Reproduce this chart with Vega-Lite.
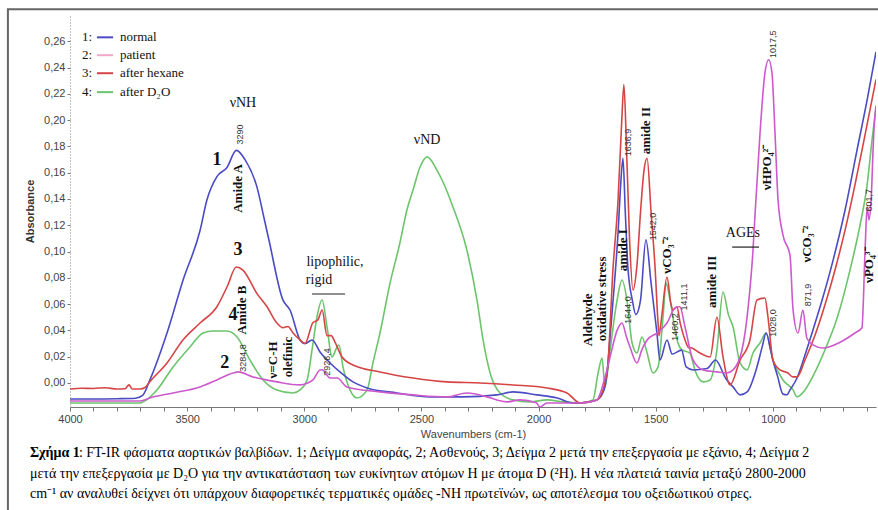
{
"$schema": "https://vega.github.io/schema/vega-lite/v6.json",
"width": 806, "height": 392,
"autosize": {"type": "none"},
"padding": {"left": 70, "top": 15, "right": 2, "bottom": 103},
"background": "white",
"config": {"view": {"stroke": null}, "font": "Liberation Sans"},
"datasets": {
"normal": [{"w":4000,"a":-0.0122},{"w":3900,"a":-0.0122},{"w":3800,"a":-0.012},{"w":3720,"a":-0.0116},{"w":3690,"a":-0.0095},{"w":3659,"a":0.0023},{"w":3586,"a":0.038},{"w":3518,"a":0.078},{"w":3445,"a":0.116},{"w":3416,"a":0.139},{"w":3373,"a":0.157},{"w":3330,"a":0.164},{"w":3290,"a":0.177},{"w":3253,"a":0.17},{"w":3202,"a":0.149},{"w":3170,"a":0.124},{"w":3150,"a":0.108},{"w":3091,"a":0.063},{"w":3061,"a":0.0555},{"w":3018,"a":0.0327},{"w":2997,"a":0.03},{"w":2967,"a":0.0327},{"w":2933,"a":0.0236},{"w":2890,"a":0.0152},{"w":2848,"a":0.0084},{"w":2792,"a":0.0008},{"w":2732,"a":-0.0038},{"w":2604,"a":-0.0076},{"w":2463,"a":-0.0106},{"w":2323,"a":-0.0106},{"w":2178,"a":-0.0091},{"w":2109,"a":-0.0068},{"w":2007,"a":-0.0091},{"w":1921,"a":-0.0114},{"w":1853,"a":-0.0152},{"w":1823,"a":-0.0152},{"w":1751,"a":-0.0129},{"w":1720,"a":-0.005},{"w":1708,"a":0.0076},{"w":1695,"a":0.035},{"w":1682,"a":0.0631},{"w":1661,"a":0.114},{"w":1650,"a":0.15},{"w":1640,"a":0.171},{"w":1630,"a":0.13},{"w":1619,"a":0.088},{"w":1600,"a":0.063},{"w":1585,"a":0.052},{"w":1565,"a":0.063},{"w":1542,"a":0.109},{"w":1520,"a":0.076},{"w":1495,"a":0.038},{"w":1482,"a":0.0175},{"w":1452,"a":0.0327},{"w":1430,"a":0.022},{"w":1390,"a":0.025},{"w":1370,"a":0.0122},{"w":1340,"a":0.0099},{"w":1281,"a":0.011},{"w":1245,"a":0.0175},{"w":1200,"a":0.003},{"w":1170,"a":-0.003},{"w":1140,"a":-0.0091},{"w":1110,"a":-0.0068},{"w":1068,"a":0.0122},{"w":1045,"a":0.028},{"w":1029,"a":0.038},{"w":1010,"a":0.025},{"w":1000,"a":0.0175},{"w":980,"a":0.005},{"w":957,"a":-0.0085},{"w":940,"a":-0.009},{"w":927,"a":-0.0053},{"w":897,"a":0.0038},{"w":863,"a":0.0213},{"w":829,"a":0.0403},{"w":790,"a":0.0631},{"w":743,"a":0.0935},{"w":692,"a":0.1316},{"w":641,"a":0.1772},{"w":598,"a":0.2152},{"w":560,"a":0.252}],
"hexane": [{"w":4000,"a":-0.0046},{"w":3950,"a":-0.004},{"w":3900,"a":-0.0042},{"w":3850,"a":-0.0036},{"w":3800,"a":-0.0046},{"w":3765,"a":-0.0044},{"w":3748,"a":-0.0015},{"w":3735,"a":-0.0046},{"w":3700,"a":-0.0046},{"w":3680,"a":-0.0035},{"w":3659,"a":0.001},{"w":3586,"a":0.0152},{"w":3518,"a":0.0327},{"w":3445,"a":0.0456},{"w":3373,"a":0.058},{"w":3330,"a":0.073},{"w":3290,"a":0.0882},{"w":3262,"a":0.0859},{"w":3202,"a":0.068},{"w":3159,"a":0.058},{"w":3117,"a":0.0456},{"w":3091,"a":0.042},{"w":3070,"a":0.043},{"w":3048,"a":0.038},{"w":3018,"a":0.0327},{"w":2997,"a":0.03},{"w":2963,"a":0.046},{"w":2942,"a":0.048},{"w":2924,"a":0.0555},{"w":2903,"a":0.036},{"w":2885,"a":0.036},{"w":2869,"a":0.031},{"w":2839,"a":0.0198},{"w":2792,"a":0.0137},{"w":2677,"a":0.0084},{"w":2536,"a":0.0038},{"w":2391,"a":0.0008},{"w":2250,"a":0},{"w":2109,"a":-0.0015},{"w":1964,"a":-0.0038},{"w":1879,"a":-0.0076},{"w":1823,"a":-0.0152},{"w":1751,"a":-0.0129},{"w":1708,"a":0.0076},{"w":1682,"a":0.0882},{"w":1661,"a":0.139},{"w":1645,"a":0.2},{"w":1636,"a":0.227},{"w":1625,"a":0.18},{"w":1612,"a":0.11},{"w":1597,"a":0.0707},{"w":1580,"a":0.09},{"w":1565,"a":0.13},{"w":1550,"a":0.162},{"w":1537,"a":0.171},{"w":1520,"a":0.13},{"w":1503,"a":0.088},{"w":1490,"a":0.045},{"w":1486,"a":0.036},{"w":1475,"a":0.05},{"w":1452,"a":0.0806},{"w":1435,"a":0.06},{"w":1426,"a":0.0555},{"w":1410,"a":0.058},{"w":1395,"a":0.045},{"w":1375,"a":0.0327},{"w":1360,"a":0.027},{"w":1346,"a":0.0266},{"w":1311,"a":0.0228},{"w":1268,"a":0.0198},{"w":1239,"a":0.05},{"w":1213,"a":0.0198},{"w":1183,"a":-0.0015},{"w":1140,"a":0.0175},{"w":1098,"a":0.0327},{"w":1068,"a":0.0631},{"w":1034,"a":0.0646},{"w":1021,"a":0.05},{"w":1000,"a":0.0175},{"w":970,"a":0.0099},{"w":936,"a":0.0076},{"w":915,"a":0.0046},{"w":897,"a":0.0046},{"w":863,"a":0.0175},{"w":820,"a":0.0365},{"w":778,"a":0.0593},{"w":735,"a":0.086},{"w":692,"a":0.1163},{"w":650,"a":0.1506},{"w":607,"a":0.1886},{"w":560,"a":0.231}],
"d2o": [{"w":4000,"a":-0.0152},{"w":3800,"a":-0.0152},{"w":3700,"a":-0.0152},{"w":3688,"a":-0.0144},{"w":3629,"a":-0.0053},{"w":3560,"a":0.0122},{"w":3488,"a":0.0274},{"w":3432,"a":0.038},{"w":3390,"a":0.0395},{"w":3330,"a":0.0395},{"w":3287,"a":0.035},{"w":3232,"a":0.0175},{"w":3176,"a":0.0023},{"w":3117,"a":-0.0053},{"w":3048,"a":-0.0076},{"w":3018,"a":-0.0053},{"w":2988,"a":0.0023},{"w":2967,"a":0.0251},{"w":2946,"a":0.0502},{"w":2924,"a":0.0631},{"w":2903,"a":0.0426},{"w":2882,"a":0.0198},{"w":2860,"a":0.0274},{"w":2852,"a":0.0289},{"w":2835,"a":0.0122},{"w":2805,"a":-0.0053},{"w":2775,"a":-0.0114},{"w":2732,"a":-0.0053},{"w":2707,"a":0.0152},{"w":2677,"a":0.038},{"w":2634,"a":0.076},{"w":2592,"a":0.1065},{"w":2562,"a":0.1316},{"w":2536,"a":0.1468},{"w":2506,"a":0.1643},{"w":2476,"a":0.172},{"w":2434,"a":0.162},{"w":2408,"a":0.1529},{"w":2370,"a":0.136},{"w":2306,"a":0.101},{"w":2263,"a":0.0631},{"w":2237,"a":0.0327},{"w":2207,"a":0.0076},{"w":2165,"a":-0.0076},{"w":2109,"a":-0.0129},{"w":2037,"a":-0.0144},{"w":1964,"a":-0.0129},{"w":1896,"a":-0.0144},{"w":1823,"a":-0.0152},{"w":1768,"a":-0.0129},{"w":1746,"a":0.0076},{"w":1729,"a":0.019},{"w":1717,"a":-0.003},{"w":1695,"a":0.025},{"w":1665,"a":0.0631},{"w":1644,"a":0.0783},{"w":1623,"a":0.0631},{"w":1601,"a":0.0304},{"w":1580,"a":0.0228},{"w":1559,"a":0.035},{"w":1537,"a":0.0228},{"w":1512,"a":0.0076},{"w":1490,"a":0.0122},{"w":1469,"a":0.0502},{"w":1456,"a":0.076},{"w":1439,"a":0.0631},{"w":1409,"a":0.0327},{"w":1388,"a":0.0251},{"w":1354,"a":0.0228},{"w":1333,"a":0.0099},{"w":1298,"a":0.0008},{"w":1268,"a":0.0023},{"w":1239,"a":0.0251},{"w":1213,"a":0.0692},{"w":1190,"a":0.052},{"w":1170,"a":0.0426},{"w":1140,"a":0.0152},{"w":1110,"a":0.0099},{"w":1085,"a":0.0228},{"w":1055,"a":0.0304},{"w":1029,"a":0.038},{"w":1000,"a":0.0175},{"w":957,"a":0.0023},{"w":914,"a":-0.0053},{"w":897,"a":-0.0106},{"w":863,"a":-0.0053},{"w":820,"a":0.0084},{"w":778,"a":0.0251},{"w":726,"a":0.0494},{"w":671,"a":0.0859},{"w":628,"a":0.1202},{"w":598,"a":0.1506},{"w":577,"a":0.1848},{"w":560,"a":0.21}],
"patient": [{"w":4000,"a":-0.0137},{"w":3800,"a":-0.0137},{"w":3700,"a":-0.0137},{"w":3659,"a":-0.0114},{"w":3560,"a":-0.0076},{"w":3445,"a":-0.003},{"w":3373,"a":0.0023},{"w":3304,"a":0.0076},{"w":3283,"a":0.0084},{"w":3219,"a":0.0046},{"w":3117,"a":0.0008},{"w":3018,"a":-0.0015},{"w":2963,"a":0.0023},{"w":2933,"a":0.0099},{"w":2924,"a":0.01},{"w":2890,"a":0.0038},{"w":2860,"a":0.0038},{"w":2818,"a":-0.003},{"w":2677,"a":-0.0068},{"w":2536,"a":-0.0091},{"w":2391,"a":-0.0106},{"w":2306,"a":-0.0076},{"w":2220,"a":-0.0106},{"w":2178,"a":-0.0129},{"w":2135,"a":-0.0144},{"w":2079,"a":-0.0129},{"w":2010,"a":-0.015},{"w":1994,"a":-0.0183},{"w":1964,"a":-0.0152},{"w":1896,"a":-0.0152},{"w":1823,"a":-0.0152},{"w":1751,"a":-0.0129},{"w":1720,"a":0.002},{"w":1695,"a":0.0198},{"w":1665,"a":0.04},{"w":1644,"a":0.0456},{"w":1625,"a":0.035},{"w":1610,"a":0.0274},{"w":1580,"a":0.0152},{"w":1560,"a":0.025},{"w":1537,"a":0.0327},{"w":1495,"a":0.038},{"w":1452,"a":0.0456},{"w":1418,"a":0.057},{"w":1397,"a":0.058},{"w":1375,"a":0.0426},{"w":1341,"a":0.0175},{"w":1298,"a":0.0099},{"w":1239,"a":0.0084},{"w":1196,"a":0.0076},{"w":1170,"a":0.0099},{"w":1132,"a":0.0251},{"w":1106,"a":0.057},{"w":1085,"a":0.101},{"w":1077,"a":0.126},{"w":1055,"a":0.19},{"w":1034,"a":0.236},{"w":1018,"a":0.246},{"w":1004,"a":0.236},{"w":991,"a":0.19},{"w":978,"a":0.139},{"w":957,"a":0.1125},{"w":927,"a":0.097},{"w":914,"a":0.0555},{"w":893,"a":0.038},{"w":872,"a":0.0555},{"w":855,"a":0.034},{"w":829,"a":0.029},{"w":786,"a":0.0266},{"w":713,"a":0.031},{"w":650,"a":0.038},{"w":620,"a":0.042},{"w":607,"a":0.099},{"w":598,"a":0.134},{"w":590,"a":0.124},{"w":581,"a":0.139},{"w":569,"a":0.192},{"w":560,"a":0.211}],
"boldRot": [{"w":3283,"a":0.148,"t":"Amide A"},{"w":3266,"a":0.0555,"t":"Amide B"},{"w":3134,"a":0.0175,"t":"ν=C-H"},{"w":3070,"a":0.0198,"t":"olefinic"},{"w":1789,"a":0.048,"t":"Aldehyde"},{"w":1729,"a":0.064,"t":"oxidative stress"},{"w":1640,"a":0.101,"t":"amide I"},{"w":1542,"a":0.192,"t":"amide II"},{"w":1452,"a":0.0973,"t":"νCO₃⁻²"},{"w":1260,"a":0.077,"t":"amide III"},{"w":1025,"a":0.164,"t":"νHPO₄²⁻"},{"w":855,"a":0.1057,"t":"νCO₃⁻²"},{"w":588,"a":0.0897,"t":"νPO₄³⁻"}],
"numRot": [{"w":3274,"a":0.189,"t":"3290"},{"w":3262,"a":0.019,"t":"3284,8"},{"w":2903,"a":0.016,"t":"2926,4"},{"w":1619,"a":0.183,"t":"1636,9"},{"w":1512,"a":0.119,"t":"1542,0"},{"w":1619,"a":0.0555,"t":"1644,0"},{"w":1418,"a":0.0426,"t":"1460,2"},{"w":1380,"a":0.0654,"t":"1411,1"},{"w":1000,"a":0.0456,"t":"1028,0"},{"w":1000,"a":0.2578,"t":"1017,5"},{"w":850,"a":0.067,"t":"871,9"},{"w":588,"a":0.139,"t":"601,7"}],
"curveNum": [{"w":3373,"a":0.1696,"t":"1"},{"w":3283,"a":0.101,"t":"3"},{"w":3304,"a":0.052,"t":"4"},{"w":3339,"a":0.0152,"t":"2"}],
"plainText": [{"w":3262,"a":0.213,"t":"νNH"},{"w":2476,"a":0.1848,"t":"νND"},{"w":2869,"a":0.092,"t":"lipophilic,"},{"w":2937,"a":0.0783,"t":"rigid"},{"w":1128,"a":0.114,"t":"AGEs"}],
"underlines": [{"w":2967,"w2":2826,"a":0.0677},{"w":1174,"w2":1059,"a":0.1034}],
"legend": [{"w":3949,"w2":3885,"w3":3816,"w4":3787,"a":0.263,"n":"1:","lab":"normal","k":"1"},{"w":3949,"w2":3885,"w3":3816,"w4":3787,"a":0.2494,"n":"2:","lab":"patient","k":"2"},{"w":3949,"w2":3885,"w3":3816,"w4":3787,"a":0.2357,"n":"3:","lab":"after hexane","k":"3"},{"w":3949,"w2":3885,"w3":3816,"w4":3787,"a":0.2213,"n":"4:","lab":"after D₂O","k":"4"}],
"frame": [{"w":4265,"w2":200,"a":0.2844,"a2":-0.3}],
"captionBold": [{"w":4171,"a":-0.0532,"t":"Σχήμα 1"}],
"caption": [{"w":3962,"a":-0.0532,"t":": FT-IR φάσματα αορτικών βαλβίδων. 1; Δείγμα αναφοράς, 2; Ασθενούς, 3; Δείγμα 2 μετά την επεξεργασία με εξάνιο, 4; Δείγμα 2"},{"w":4171,"a":-0.0692,"t":"μετά την επεξεργασία με D₂O για την αντικατάσταση των ευκίνητων ατόμων Η με άτομα D (²H). Η νέα πλατειά ταινία μεταξύ 2800-2000"},{"w":4171,"a":-0.0844,"t":"cm⁻¹ αν αναλυθεί δείχνει ότι υπάρχουν διαφορετικές τερματικές ομάδες -ΝΗ πρωτεϊνών, ως αποτέλεσμα του οξειδωτικού στρες."}]
},
"encoding": {
"x": {"field": "w", "type": "quantitative", "title": "Wavenumbers (cm-1)",
 "scale": {"domain": [4000, 560], "nice": false, "zero": false},
 "axis": {"values": [4000,3900,3800,3700,3600,3500,3400,3300,3200,3100,3000,2900,2800,2700,2600,2500,2400,2300,2200,2100,2000,1900,1800,1700,1600,1500,1400,1300,1200,1100,1000,900,800,700,600],
  "labelExpr": "datum.value % 500 == 0 ? format(datum.value, 'd') : ''", "grid": false,
  "domainColor": "#777", "tickColor": "#777", "tickSize": 4, "labelColor": "#444", "labelFontSize": 11,
  "labelFont": "Liberation Sans", "titleFont": "Liberation Sans", "titleFontWeight": "normal", "titleFontSize": 11, "titleColor": "#444", "titlePadding": 4, "labelFlush": false}},
"y": {"field": "a", "type": "quantitative", "title": "Absorbance",
 "scale": {"domain": [-0.0183, 0.28], "nice": false, "zero": false},
 "axis": {"values": [0,0.02,0.04,0.06,0.08,0.1,0.12,0.14,0.16,0.18,0.2,0.22,0.24,0.26],
  "labelExpr": "replace(format(datum.value, '.2f'), '.', ',')", "grid": false,
  "domainColor": "#888", "domainDash": [1, 2], "tickColor": "#777", "tickSize": 3, "labelPadding": 2,
  "labelColor": "#444", "labelFontSize": 11, "labelFont": "Liberation Sans", "titleFont": "Liberation Sans",
  "titleFontWeight": "bold", "titleFontSize": 11, "titleColor": "#333", "titlePadding": 8}}
},
"layer": [
{"data": {"name": "frame"}, "mark": {"type": "rect", "fill": "transparent", "stroke": "#666", "strokeWidth": 2, "clip": false},
 "encoding": {"x2": {"field": "w2"}, "y2": {"field": "a2"}}},
{"data": {"name": "d2o"}, "mark": {"type": "line", "color": "#6cc46c", "strokeWidth": 1.6, "interpolate": "monotone", "clip": true}},
{"data": {"name": "normal"}, "mark": {"type": "line", "color": "#4b4bc4", "strokeWidth": 1.6, "interpolate": "monotone", "clip": true}},
{"data": {"name": "hexane"}, "mark": {"type": "line", "color": "#d64545", "strokeWidth": 1.6, "interpolate": "monotone", "clip": true}},
{"data": {"name": "patient"}, "mark": {"type": "line", "color": "#cc5acc", "strokeWidth": 1.6, "interpolate": "monotone", "clip": true}},
{"data": {"name": "boldRot"}, "mark": {"type": "text", "font": "Liberation Serif", "fontWeight": "bold", "fontSize": 13, "angle": 270, "align": "center", "baseline": "middle", "color": "#111"},
 "encoding": {"text": {"field": "t"}}},
{"data": {"name": "numRot"}, "mark": {"type": "text", "font": "Liberation Sans", "fontSize": 9, "angle": 270, "align": "center", "baseline": "middle", "color": "#333"},
 "encoding": {"text": {"field": "t"}}},
{"data": {"name": "curveNum"}, "mark": {"type": "text", "font": "Liberation Serif", "fontWeight": "bold", "fontSize": 18, "align": "center", "baseline": "middle", "color": "#111"},
 "encoding": {"text": {"field": "t"}}},
{"data": {"name": "plainText"}, "mark": {"type": "text", "font": "Liberation Serif", "fontSize": 14, "align": "center", "baseline": "middle", "color": "#111"},
 "encoding": {"text": {"field": "t"}}},
{"data": {"name": "underlines"}, "mark": {"type": "rule", "color": "#222", "strokeWidth": 1.2},
 "encoding": {"x2": {"field": "w2"}}},
{"data": {"name": "legend"}, "mark": {"type": "text", "font": "Liberation Serif", "fontSize": 13, "align": "left", "baseline": "middle", "color": "#111"},
 "encoding": {"text": {"field": "n"}}},
{"data": {"name": "legend"}, "mark": {"type": "rule", "strokeWidth": 2},
 "encoding": {"x": {"field": "w2", "type": "quantitative", "title": "Wavenumbers (cm-1)"}, "x2": {"field": "w3"},
  "color": {"field": "k", "type": "nominal", "legend": null, "scale": {"domain": ["1","2","3","4"], "range": ["#4b4bc4", "#f2a7c6", "#d64545", "#6cc46c"]}}}},
{"data": {"name": "legend"}, "mark": {"type": "text", "font": "Liberation Serif", "fontSize": 13, "align": "left", "baseline": "middle", "color": "#111"},
 "encoding": {"x": {"field": "w4", "type": "quantitative", "title": "Wavenumbers (cm-1)"}, "text": {"field": "lab"}}},
{"data": {"name": "captionBold"}, "mark": {"type": "text", "font": "Liberation Serif", "fontWeight": "bold", "fontSize": 14, "align": "left", "baseline": "middle", "color": "#000", "clip": false},
 "encoding": {"text": {"field": "t"}}},
{"data": {"name": "caption"}, "mark": {"type": "text", "font": "Liberation Serif", "fontSize": 14, "align": "left", "baseline": "middle", "color": "#000", "clip": false},
 "encoding": {"text": {"field": "t"}}}
]
}
